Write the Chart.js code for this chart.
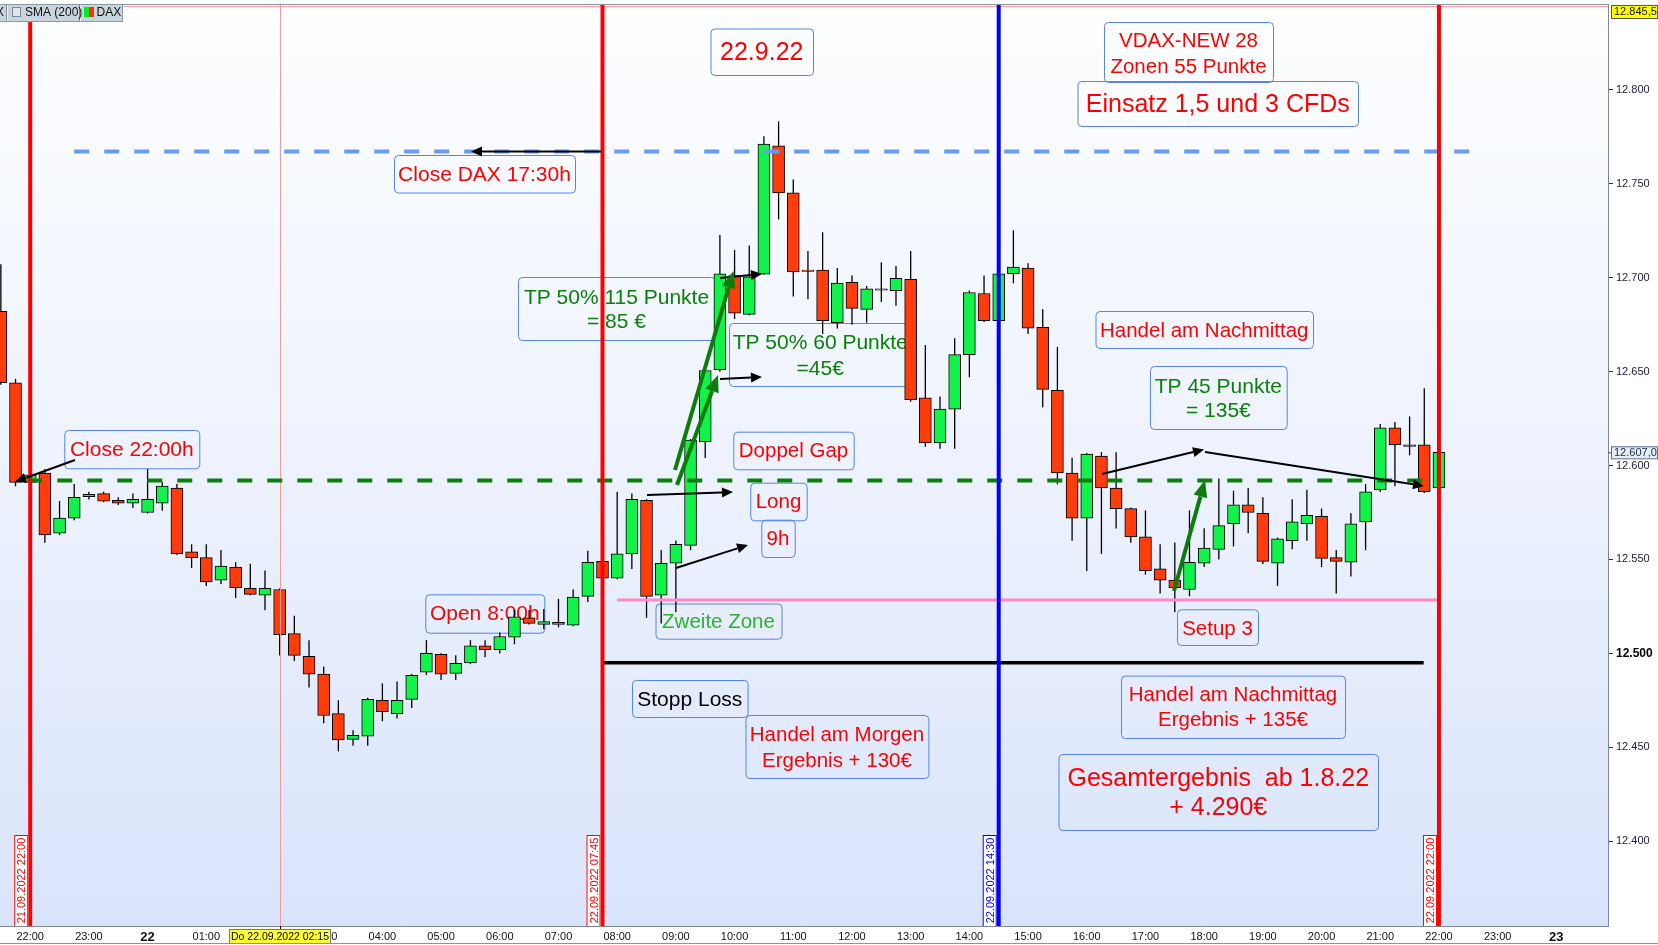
<!DOCTYPE html>
<html><head><meta charset="utf-8">
<script src="https://cdn.jsdelivr.net/npm/chart.js@4"></script>
<style>html,body{margin:0;padding:0;background:#fff;overflow:hidden}canvas{display:block}</style>
</head><body>
<canvas id="c" width="1658" height="945" style="width:1658px;height:945px"></canvas>
<script>
// ---------- DATA (DAX 15-min candles, 21.09.2022 21:30 – 22.09.2022 22:00) ----------
const times = ["21:30","21:45","22:00","22:15","22:30","22:45","23:00","23:15","23:30","23:45",
"00:00","00:15","00:30","00:45","01:00","01:15","01:30","01:45","02:00","02:15","02:30","02:45",
"03:00","03:15","03:30","03:45","04:00","04:15","04:30","04:45","05:00","05:15","05:30","05:45",
"06:00","06:15","06:30","06:45","07:00","07:15","07:30","07:45","08:00","08:15","08:30","08:45",
"09:00","09:15","09:30","09:45","10:00","10:15","10:30","10:45","11:00","11:15","11:30","11:45",
"12:00","12:15","12:30","12:45","13:00","13:15","13:30","13:45","14:00","14:15","14:30","14:45",
"15:00","15:15","15:30","15:45","16:00","16:15","16:30","16:45","17:00","17:15","17:30","17:45",
"18:00","18:15","18:30","18:45","19:00","19:15","19:30","19:45","20:00","20:15","20:30","20:45",
"21:00","21:15","21:30","21:45","22:00"];
const openV = [12682,12644,12591,12596,12564,12572,12583.4,12585,12581.5,12580,
12575,12580,12588,12554,12551,12539,12546,12534.6,12531,12534,
12510.5,12498.5,12489,12468,12454.3,12456,12475,12468,12475.6,12490,
12499.5,12489.4,12495,12504,12502,12508.6,12519,12515.5,12516.5,12515,
12530.4,12549,12540,12553,12581.4,12531,12548,12557.5,12612.5,12651,
12701,12680.4,12701.8,12770,12745,12704,12704,12676,12697.4,12683,
12694,12693,12699,12636,12612,12630,12659,12691.5,12677,12702,
12705,12673.5,12640,12596,12572,12605,12588,12577,12562,12545,
12539,12534,12548,12555.4,12569,12579,12574.5,12548,12560,12569,
12573,12551,12548.5,12570,12587,12620,12611,12611,12588];
const highV = [12707,12646,12597,12598,12581,12590,12586,12586,12583,12585,
12598,12591,12590,12558,12558,12555,12548.5,12547.6,12544,12534.5,
12520,12507,12493,12475,12459,12476.4,12484,12485,12489,12507,
12500,12499,12507,12507,12511,12523,12523,12523.5,12529,12534,
12554.5,12553,12586,12585,12582,12555,12560,12614,12651,12722.5,
12714.6,12717,12775,12783,12752,12714,12724,12705,12701,12695.4,
12708,12706,12714,12664,12636.6,12667.6,12693,12701,12702.5,12725,
12707.5,12683,12663,12604,12606.5,12607,12607,12577.5,12576,12558,
12559,12576,12566.5,12593,12586.5,12588,12583,12561.5,12582,12587,
12577,12555,12574.5,12590,12622,12623,12626,12641,12607.5];
const lowV = [12643,12589,12589,12559,12563,12571,12582,12580.5,12579,12577.5,
12574.5,12576,12552.5,12545.6,12536,12537,12529.6,12531,12523,12499,
12496,12482,12463,12448,12451,12451,12464,12465.5,12471,12488.6,
12486,12486,12494.4,12498,12500,12505,12515.5,12513,12514,12514.5,
12527.5,12538,12539.5,12545,12519,12516,12522,12555,12604,12650,
12678,12680,12701.5,12731,12690,12688.5,12670,12673,12675,12676,
12687,12685,12634,12610,12609,12609,12647,12676.4,12676.5,12697,
12670,12631,12590,12560,12544,12553,12566.5,12559,12542,12532,
12522,12530.5,12546,12550,12557,12564,12547.6,12536,12555.5,12560,
12546,12532,12541,12555,12586,12589,12605.5,12585.5,12587.5];
const closeV = [12644,12591,12595,12563,12572,12583,12584.6,12581,12580,12582,
12582,12589,12553,12551,12538,12546.5,12535,12531.4,12534.6,12510,
12499,12489,12467,12454,12456.4,12475.6,12469,12475,12488.3,12500,
12489,12494.7,12504,12502,12509,12519.5,12516,12517,12515.5,12530,
12548.5,12540,12553,12582,12530.4,12548,12558,12613.5,12650.5,12702,
12681,12700.4,12771,12745,12703,12703.2,12677,12697,12683.6,12694,
12693.2,12699.5,12635,12612,12630,12659,12692,12677,12702,12705.6,
12673,12640.5,12596,12572,12606,12588,12577,12562,12544,12539,
12535,12548.5,12556,12568,12579,12575,12549,12561,12570,12573.5,
12550.6,12549,12569,12586,12620,12611,12610.2,12586,12607];

const yTickValues = [12400,12450,12500,12550,12600,12650,12700,12750,12800];
const yTickLabels = ["12.400","12.450","12.500","12.550","12.600","12.650","12.700","12.750","12.800"];
const xTickLabels = ["22:00","23:00","22","01:00","02:00","03:00","04:00","05:00","06:00","07:00","08:00",
"09:00","10:00","11:00","12:00","13:00","14:00","15:00","16:00","17:00","18:00","19:00","20:00","21:00",
"22:00","23:00","23"];
const topPrice = 12845.5, lastPrice = 12607.0, bottomPrice = 12355;
const levelCloseDax = 12767, levelClose22 = 12592, levelSetup = 12528.4, levelStop = 12495;

// ---------- helpers ----------
const FONT = "'Liberation Sans', Arial, Helvetica, sans-serif";
const GREEN = '#13f24a', RED = '#ff3d0c';
function hoursFromStart(list){let day=0,prev=-1;return list.map(t=>{const p=t.split(':').map(Number);const m=p[0]*60+p[1];if(m<prev)day++;prev=m;return day*24+m/60-22;});}
function hoursOf(day,t){const p=t.split(':').map(Number);return day*24+p[0]+p[1]/60-22;}
const xs = hoursFromStart(times);
const xTickValues = xTickLabels.map((_,i)=>i);
const bodyColors = openV.map((o,i)=> closeV[i] >= o ? GREEN : RED);

const markers = [
 {h:hoursOf(0,'22:00'), color:'#ff0000', label:'21.09.2022 22:00'},
 {h:hoursOf(1,'07:45'), color:'#ff0000', label:'22.09.2022 07:45'},
 {h:hoursOf(1,'14:30'), color:'#0000ff', label:'22.09.2022 14:30'},
 {h:hoursOf(1,'22:00'), color:'#ff0000', label:'22.09.2022 22:00'}
];
const crossH = hoursOf(1,'02:15');

const levels = [
 {v:levelCloseDax, from:0.75, to:24.53, color:'#6a9bf0', w:4, dash:[15,15]},
 {v:levelClose22, from:-0.05, to:23.9, color:'#0b7f0b', w:4, dash:[15,15]},
 {v:levelSetup, from:hoursOf(1,'08:00'), to:hoursOf(1,'22:00'), color:'#ff88c8', w:3, dash:[]},
 {v:levelStop, from:hoursOf(1,'07:45'), to:23.74, color:'#000000', w:3.5, dash:[]}
];

const RD='#ff0000', GR='#0a820a', LG='#2ab42a';
const boxes = [
 {b:[710.5,28.5,813,75], t:['22.9.22'], s:25, c:RD, cy:[51]},
 {b:[1104,22,1273,82], t:['VDAX-NEW 28','Zonen 55 Punkte'], s:20.5, c:RD, cy:[40,65.5]},
 {b:[1077.5,81,1358,126], t:['Einsatz 1,5 und 3 CFDs'], s:25, c:RD, cy:[103]},
 {b:[394,155,575,192.5], t:['Close DAX 17:30h'], s:21, c:RD, cy:[173]},
 {b:[518,277,715,340], t:['TP 50% 115 Punkte','= 85 €'], s:21, c:GR, cy:[296,320.5]},
 {b:[729,323,911.5,386], t:['TP 50% 60 Punkte','=45€'], s:21, c:GR, cy:[341.5,367]},
 {b:[64.3,430,199.3,468.3], t:['Close 22:00h'], s:21, c:RD, cy:[448]},
 {b:[733.3,431.7,853.7,469.3], t:['Doppel Gap'], s:20.5, c:RD, cy:[450]},
 {b:[750.3,482.7,806.7,520.3], t:['Long'], s:20.5, c:RD, cy:[501]},
 {b:[761.3,519.7,794.7,557], t:['9h'], s:20.5, c:RD, cy:[537.5]},
 {b:[1095.5,311,1313,348], t:['Handel am Nachmittag'], s:20.5, c:RD, cy:[329.5]},
 {b:[1150,366,1286.7,429], t:['TP 45 Punkte','= 135€'], s:21, c:GR, cy:[385,409.5]},
 {b:[425.3,594.3,544.3,632.7], t:['Open 8:00h'], s:21, c:RD, cy:[612.5]},
 {b:[655.5,603.5,781.5,638.7], t:['Zweite Zone'], s:20.5, c:LG, cy:[621]},
 {b:[1177,609.3,1258,645], t:['Setup 3'], s:20.5, c:RD, cy:[627.5]},
 {b:[632,680,747.6,717], t:['Stopp Loss'], s:21, c:'#000', cy:[698.5]},
 {b:[1121,675.6,1345,738], t:['Handel am Nachmittag','Ergebnis + 135€'], s:20.5, c:RD, cy:[694,719]},
 {b:[745.5,715,928.4,778], t:['Handel am Morgen','Ergebnis + 130€'], s:20.5, c:RD, cy:[734,759.5]},
 {b:[1058.5,754,1378,830], t:['Gesamtergebnis  ab 1.8.22','+ 4.290€'], s:25, c:RD, cy:[776.5,806]}
];
const arrows = [
 {p:[601,151.5,471,151.5], c:'#000', w:2, L:11, W:5},
 {p:[75,460,15,481.7], c:'#000', w:2, L:11, W:5},
 {p:[647,495,733,492], c:'#000', w:2, L:11, W:5},
 {p:[676,568,748,545], c:'#000', w:2, L:11, W:5},
 {p:[720,278,762,274], c:'#000', w:2, L:11, W:5},
 {p:[720,379,762,377], c:'#000', w:2, L:11, W:5},
 {p:[1102,474,1204,449.5], c:'#000', w:2, L:11, W:5},
 {p:[1205,452,1424,486], c:'#000', w:2, L:11, W:5},
 {p:[675,470,733.5,271], c:'#0a7d0a', w:4, L:17, W:7},
 {p:[677,485,718,375], c:'#0a7d0a', w:4, L:17, W:7},
 {p:[1174,591,1205,480], c:'#0a7d0a', w:4, L:17, W:7}
];

function rrect(ctx,x1,y1,x2,y2,r){ctx.beginPath();ctx.moveTo(x1+r,y1);ctx.lineTo(x2-r,y1);ctx.quadraticCurveTo(x2,y1,x2,y1+r);ctx.lineTo(x2,y2-r);ctx.quadraticCurveTo(x2,y2,x2-r,y2);ctx.lineTo(x1+r,y2);ctx.quadraticCurveTo(x1,y2,x1,y2-r);ctx.lineTo(x1,y1+r);ctx.quadraticCurveTo(x1,y1,x1+r,y1);ctx.closePath();}
function arrow(ctx,a){const [x1,y1,x2,y2]=a.p;const ang=Math.atan2(y2-y1,x2-x1);const bx=x2-a.L*Math.cos(ang),by=y2-a.L*Math.sin(ang);
 ctx.save();ctx.strokeStyle=a.c;ctx.fillStyle=a.c;ctx.lineWidth=a.w;ctx.lineCap='butt';ctx.beginPath();ctx.moveTo(x1,y1);ctx.lineTo(bx,by);ctx.stroke();
 ctx.beginPath();ctx.moveTo(x2,y2);ctx.lineTo(bx+a.W*Math.sin(ang),by-a.W*Math.cos(ang));ctx.lineTo(bx-a.W*Math.sin(ang),by+a.W*Math.cos(ang));ctx.closePath();ctx.fill();ctx.restore();}

const decor = {
 id:'decor',
 beforeDraw(chart){
  const ctx=chart.ctx, a=chart.chartArea;
  ctx.save();ctx.fillStyle='#ffffff';ctx.fillRect(0,0,chart.width,chart.height);
  const g=ctx.createLinearGradient(0,a.top,0,a.bottom);g.addColorStop(0,'#fdfeff');g.addColorStop(0.5,'#edf2fd');g.addColorStop(1,'#d9e4fc');
  ctx.fillStyle=g;ctx.fillRect(a.left,a.top,a.right-a.left,a.bottom-a.top);
  ctx.restore();
 },
 beforeDatasetsDraw(chart){
  const ctx=chart.ctx;ctx.save();
  boxes.forEach(bx=>{const [x1,y1,x2,y2]=bx.b;rrect(ctx,x1+0.5,y1+0.5,x2+0.5,y2+0.5,4);ctx.strokeStyle='#5585e6';ctx.lineWidth=1;ctx.stroke();
   ctx.fillStyle=bx.c;ctx.font=bx.s+'px '+FONT;ctx.textAlign='center';ctx.textBaseline='alphabetic';
   bx.t.forEach((t,i)=>ctx.fillText(t,(x1+x2)/2,bx.cy[i]+0.36*bx.s));});
  ctx.restore();
 },
 afterDatasetsDraw(chart){
  const ctx=chart.ctx,a=chart.chartArea,X=chart.scales.x,Y=chart.scales.y;
  ctx.save();
  ctx.beginPath();ctx.rect(a.left,a.top,a.right-a.left,a.bottom-a.top);ctx.clip();
  // top lines
  ctx.fillStyle='#ff9a9a';ctx.fillRect(a.left,a.top+2,a.right-a.left,1);
  // thin cross line
  const cx=X.getPixelForValue(crossH);ctx.fillStyle='#f29a9a';ctx.fillRect(Math.round(cx),a.top,1,a.bottom-a.top);
  levels.forEach(l=>{const y=Y.getPixelForValue(l.v);ctx.beginPath();ctx.setLineDash(l.dash);ctx.strokeStyle=l.color;ctx.lineWidth=l.w;
   ctx.moveTo(X.getPixelForValue(l.from),y);ctx.lineTo(X.getPixelForValue(l.to),y);ctx.stroke();});
  ctx.setLineDash([]);
  markers.forEach(m=>{const x=X.getPixelForValue(m.h);ctx.fillStyle=m.color;ctx.fillRect(x-2,a.top,4,a.bottom-a.top);
   const bx2=x-2, bx1=bx2-14, by1=835, by2=a.bottom;ctx.fillStyle='#ffffff';ctx.fillRect(bx1,by1,bx2-bx1,by2-by1);
   ctx.strokeStyle=m.color;ctx.lineWidth=1;ctx.strokeRect(bx1+0.5,by1+0.5,bx2-bx1-1,by2-by1);
   ctx.save();ctx.translate((bx1+bx2)/2+0.5,(by1+by2)/2);ctx.rotate(-Math.PI/2);ctx.fillStyle=m.color;ctx.font='11px '+FONT;ctx.textAlign='center';ctx.textBaseline='middle';ctx.fillText(m.label,0,0.5);ctx.restore();});
  arrows.forEach(ar=>arrow(ctx,ar));
  ctx.restore();
  // top border
  ctx.save();ctx.fillStyle='#8a949c';ctx.fillRect(0,a.top,a.right,1);
  // legend strip
  ctx.fillStyle='#c9d5dd';ctx.fillRect(0,4,123,17);ctx.strokeStyle='#8a9aa6';ctx.lineWidth=1;ctx.strokeRect(-0.5,4.5,123,17);
  ctx.fillStyle='#eef3f6';ctx.fillRect(7,5,1,16);ctx.fillRect(80,5,1,16);
  ctx.fillStyle='#7a8a96';ctx.fillRect(6,5,1,16);ctx.fillRect(79,5,1,16);
  ctx.fillStyle='#dfe7ec';ctx.fillRect(12.5,7.5,8,9);ctx.strokeStyle='#7a8a96';ctx.strokeRect(12.5,7.5,8,9);
  ctx.fillStyle='#00ee22';ctx.fillRect(84,7,5,10);ctx.fillStyle='#ff3300';ctx.fillRect(89,7,5,10);
  ctx.fillStyle='#111';ctx.font='12px '+FONT;ctx.textBaseline='middle';ctx.textAlign='left';
  ctx.fillText('X',-4,13);ctx.fillText('SMA (200)',25,13);ctx.fillText('DAX',96.5,13);
  ctx.restore();
 },
 afterDraw(chart){
  const ctx=chart.ctx,a=chart.chartArea,X=chart.scales.x,Y=chart.scales.y;
  ctx.save();
  // price tags on y axis
  const yt=Y.getPixelForValue(topPrice);
  ctx.fillStyle='#ffff00';ctx.fillRect(a.right+3,yt+1,chart.width-a.right-3,13);ctx.strokeStyle='#555';ctx.lineWidth=1;ctx.strokeRect(a.right+3.5,yt+1.5,chart.width-a.right-4,13);
  ctx.fillStyle='#111';ctx.font='11px '+FONT;ctx.textBaseline='middle';ctx.textAlign='left';ctx.fillText('12.845,5',a.right+6,yt+8);
  const yl=Y.getPixelForValue(lastPrice);
  ctx.fillStyle='#e6edf5';ctx.fillRect(a.right+3,yl-6,chart.width-a.right-3,12);ctx.strokeStyle='#5a7090';ctx.strokeRect(a.right+3.5,yl-5.5,chart.width-a.right-4,12);
  ctx.fillStyle='#203050';ctx.fillText('12.607,0',a.right+6,yl+0.5);
  ctx.fillStyle='#555';ctx.fillRect(a.right,yl,4,1);
  // date tag on x axis
  const cx=X.getPixelForValue(crossH);
  ctx.fillStyle='#000';ctx.fillRect(Math.round(cx),a.bottom,1,4);
  ctx.fillStyle='#ffff33';ctx.fillRect(229,929,102,15);ctx.strokeStyle='#777';ctx.strokeRect(229.5,929.5,101,14);
  ctx.fillStyle='#000';ctx.font='10.5px '+FONT;ctx.textAlign='center';ctx.fillText('Do 22.09.2022 02:15',280,937);
  ctx.fillStyle='#8a949c';ctx.fillRect(0,chart.height-2,chart.width,1);
  ctx.restore();
 }
};

new Chart(document.getElementById('c'), {
 type:'bar',
 data:{datasets:[
  {label:'body', data:xs.map((x,i)=>({x:x,y:[openV[i],closeV[i]]})), backgroundColor:bodyColors, borderColor:'#000', borderWidth:1, borderSkipped:false,
   grouped:false, barPercentage:1, categoryPercentage:1, maxBarThickness:12},
  {label:'wick', data:xs.map((x,i)=>({x:x,y:[lowV[i],highV[i]]})), backgroundColor:'#000', borderWidth:0,
   grouped:false, barPercentage:1, categoryPercentage:1, maxBarThickness:1, inflateAmount:0.15}
 ]},
 options:{
  responsive:false, animation:false, maintainAspectRatio:false,
  layout:{padding:{left:0,top:4,right:0,bottom:0}},
  plugins:{legend:{display:false}, tooltip:{enabled:false}},
  scales:{
   x:{type:'linear', min:-0.5145, max:26.88, offset:false, position:'bottom',
      grid:{display:false, drawTicks:false, offset:false}, border:{display:true,color:'#7d8893'},
      ticks:{autoSkip:false, maxRotation:0, padding:4, color:'#111',
        font:(c)=>{const l=xTickLabels[c.index]||'';return l.length===2?{size:13,weight:'bold',family:FONT}:{size:11,family:FONT};},
        callback:(v,i)=>xTickLabels[i]},
      afterBuildTicks:(s)=>{s.ticks=xTickValues.map(v=>({value:v}));},
      afterFit:(s)=>{s.height=19;s.paddingLeft=0;s.paddingRight=0;}},
   y:{type:'linear', position:'right', min:bottomPrice, max:topPrice, stacked:false, beginAtZero:false,
      grid:{display:true, drawOnChartArea:false, drawTicks:true, tickLength:5, color:'#333'}, border:{display:true,color:'#7d8893'},
      ticks:{autoSkip:false, padding:3,
        color:(c)=>c.tick&&c.tick.value===12500?'#000':'#1c1c3c',
        font:(c)=>c.tick&&c.tick.value===12500?{size:12,weight:'bold',family:FONT}:{size:11,family:FONT},
        callback:(v,i)=>yTickLabels[i]},
      afterBuildTicks:(s)=>{s.ticks=yTickValues.map(v=>({value:v}));},
      afterFit:(s)=>{s.width=50;s.paddingTop=0;s.paddingBottom=0;}}
  }
 },
 plugins:[decor]
});
</script>
</body></html>
